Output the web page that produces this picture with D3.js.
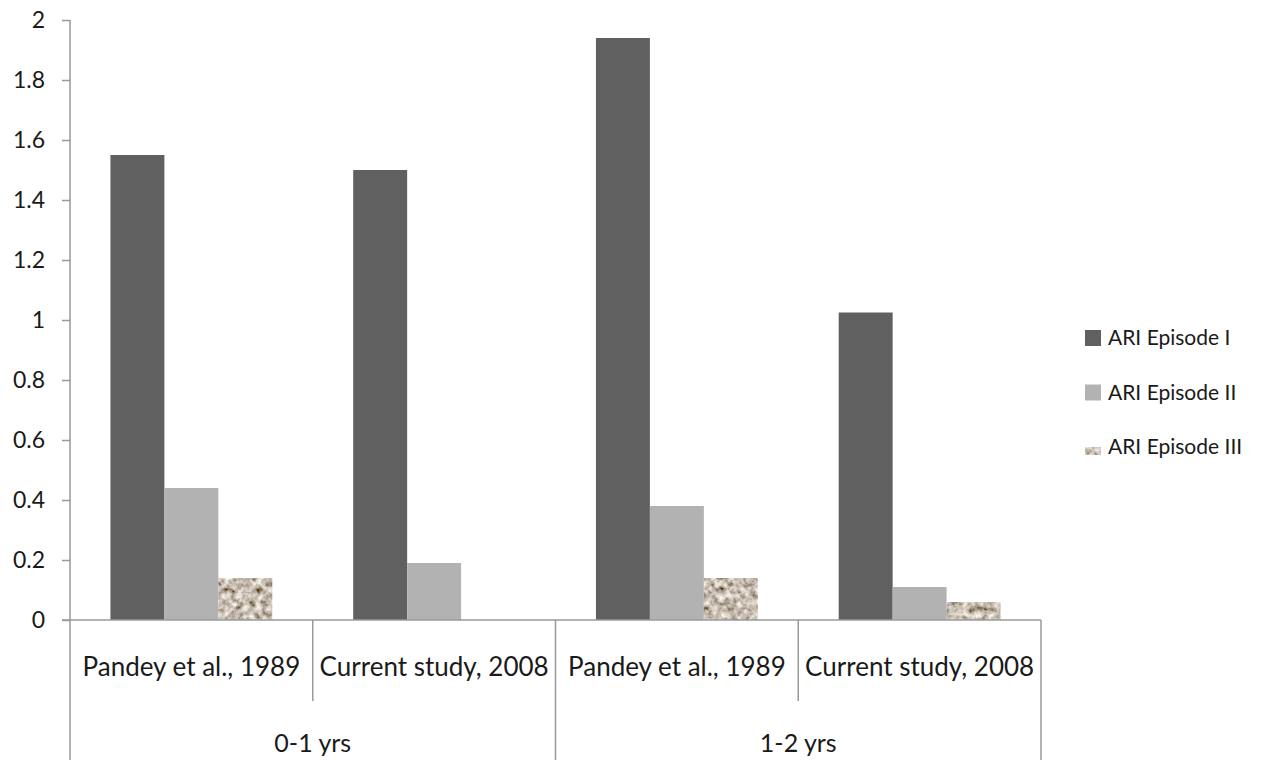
<!DOCTYPE html>
<html>
<head>
<meta charset="utf-8">
<script src="https://cdnjs.cloudflare.com/ajax/libs/d3/7.8.5/d3.min.js"></script>
<style>
  html, body { margin: 0; padding: 0; background: #ffffff; }
  svg { display: block; }
  text { font-family: Lato, "Open Sans", sans-serif; fill: #1a1a1a; }
</style>
</head>
<body>
<svg id="chart" width="1284" height="760"></svg>
<script>
// Age groups and the study inside each group
const ageGroups = ["0-1 yrs", "1-2 yrs"];
const studies = ["Pandey et al., 1989", "Current study, 2008"];
const categories = [
  { group: "0-1 yrs", study: "Pandey et al., 1989" },
  { group: "0-1 yrs", study: "Current study, 2008" },
  { group: "1-2 yrs", study: "Pandey et al., 1989" },
  { group: "1-2 yrs", study: "Current study, 2008" }
];

// ARI episodes per child, one list per episode, in category order
const seriesNames = ["ARI Episode I", "ARI Episode II", "ARI Episode III"];
const episodeI   = [1.55, 1.50, 1.94, 1.025];
const episodeII  = [0.44, 0.19, 0.38, 0.11];
const episodeIII = [0.14, 0.00, 0.14, 0.06];
const seriesValues = [episodeI, episodeII, episodeIII];

const yTicks = [0, 0.2, 0.4, 0.6, 0.8, 1, 1.2, 1.4, 1.6, 1.8, 2];

const svg = d3.select("#chart");
const plot = { left: 70, right: 1041, top: 20, bottom: 620 };
const axisColor = "#9a9a9a";

// Granite-like texture for the third series
const defs = svg.append("defs");
const grain = defs.append("filter")
  .attr("id", "grain")
  .attr("filterUnits", "userSpaceOnUse")
  .attr("x", 0).attr("y", 0).attr("width", 1284).attr("height", 760);
grain.append("feTurbulence")
  .attr("type", "fractalNoise")
  .attr("baseFrequency", 0.16)
  .attr("numOctaves", 3)
  .attr("seed", 7)
  .attr("result", "noise");
grain.append("feColorMatrix")
  .attr("in", "noise")
  .attr("type", "matrix")
  .attr("values",
    "1.35 0 0 0 -0.10 " +
    "1.35 0 0 0 -0.16 " +
    "1.35 0 0 0 -0.23 " +
    "0 0 0 0 1")
  .attr("result", "tone");
grain.append("feComposite")
  .attr("in", "tone")
  .attr("in2", "SourceGraphic")
  .attr("operator", "in");

const colors = ["#606060", "#b2b2b2", null];
const fillFor = i => i === 2 ? "#a39585" : colors[i];
const filterFor = i => i === 2 ? "url(#grain)" : null;

// Scales
const x = d3.scaleBand()
  .domain(d3.range(categories.length))
  .range([plot.left, plot.right])
  .paddingInner(0)
  .paddingOuter(0);

const xInner = d3.scaleBand()
  .domain(d3.range(seriesNames.length))
  .range([0, x.bandwidth()])
  .paddingOuter(0.75)
  .paddingInner(0);

const y = d3.scaleLinear()
  .domain([0, 2])
  .range([plot.bottom, plot.top]);

// Y axis
const yAxis = d3.axisLeft(y)
  .tickValues(yTicks)
  .tickSize(8)
  .tickPadding(17)
  .tickFormat(d => d3.format("~g")(d));

const yg = svg.append("g")
  .attr("transform", `translate(${plot.left},0)`)
  .call(yAxis);
yg.select(".domain").remove();
yg.selectAll(".tick line").attr("stroke", axisColor).attr("stroke-width", 1.5);
yg.selectAll(".tick text")
  .attr("font-size", 23)
  .attr("font-family", "Lato, sans-serif")
  .attr("fill", "#1a1a1a");

// Bars
categories.forEach((c, ci) => {
  seriesValues.forEach((vals, si) => {
    const v = vals[ci];
    if (v <= 0) return;
    svg.append("rect")
      .attr("x", x(ci) + xInner(si))
      .attr("y", y(v))
      .attr("width", xInner.bandwidth())
      .attr("height", y(0) - y(v))
      .attr("fill", fillFor(si))
      .attr("filter", filterFor(si));
  });
});

// Axis lines
svg.append("line")
  .attr("x1", plot.left).attr("x2", plot.left)
  .attr("y1", plot.top).attr("y2", 760)
  .attr("stroke", axisColor).attr("stroke-width", 1.5);
svg.append("line")
  .attr("x1", plot.left - 8).attr("x2", plot.right)
  .attr("y1", plot.bottom).attr("y2", plot.bottom)
  .attr("stroke", axisColor).attr("stroke-width", 1.5);

// Category dividers: short ones between studies, long ones between age groups
categories.forEach((c, ci) => {
  const xr = x(ci) + x.bandwidth();
  const groupEnd = ci === categories.length - 1 || categories[ci + 1].group !== c.group;
  svg.append("line")
    .attr("x1", xr).attr("x2", xr)
    .attr("y1", plot.bottom)
    .attr("y2", groupEnd ? 760 : 701)
    .attr("stroke", axisColor).attr("stroke-width", 1.5);
});

// Study labels
svg.selectAll(".study-label")
  .data(categories)
  .join("text")
  .attr("class", "study-label")
  .attr("x", (d, i) => x(i) + x.bandwidth() / 2)
  .attr("y", 676)
  .attr("text-anchor", "middle")
  .attr("font-size", 26)
  .text(d => d.study);

// Age group labels
ageGroups.forEach(g => {
  const idx = categories.map((c, i) => c.group === g ? i : -1).filter(i => i >= 0);
  const x0 = x(d3.min(idx));
  const x1 = x(d3.max(idx)) + x.bandwidth();
  svg.append("text")
    .attr("x", (x0 + x1) / 2)
    .attr("y", 752)
    .attr("text-anchor", "middle")
    .attr("font-size", 25)
    .text(g);
});

// Legend
const legend = svg.append("g").attr("transform", "translate(1085,338)");
seriesNames.forEach((name, i) => {
  const row = legend.append("g").attr("transform", `translate(0,${i * 54.5})`);
  row.append("rect")
    .attr("x", 0).attr("y", -8)
    .attr("width", 16).attr("height", 16)
    .attr("fill", fillFor(i))
    .attr("filter", filterFor(i));
  row.append("text")
    .attr("x", 23)
    .attr("y", 0)
    .attr("dy", "0.35em")
    .attr("font-size", 21)
    .text(name);
});
</script>
</body>
</html>
